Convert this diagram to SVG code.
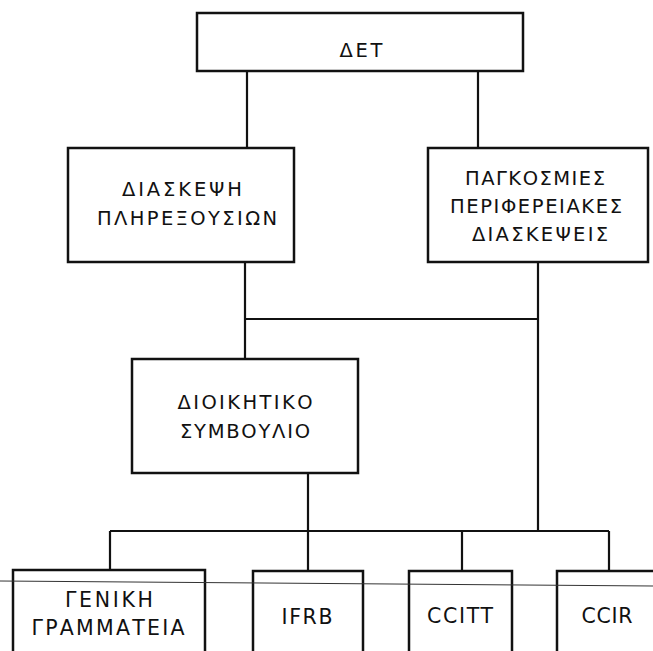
<svg xmlns="http://www.w3.org/2000/svg" width="653" height="651" viewBox="0 0 653 651">
<style>
.box{fill:#fff;stroke:#111;stroke-width:2.5}
.ln{fill:none;stroke:#111;stroke-width:2.2}
.t{font-family:"DejaVu Sans","Liberation Sans",Arial,sans-serif;font-size:19.5px;fill:#111;text-anchor:middle}
.b{font-size:20.5px}
</style>
<rect width="653" height="651" fill="#fff"/>
<g id="connectors">
<path class="ln" d="M247 71V148M478 71V148M245 262V359M245 319H538M538 262V531M308 473V571M110 531H609M110 531V570M462 531V571M609 531V571"/>
</g>
<g id="det">
<rect class="box" x="197" y="13" width="326" height="58"/>
<text class="t" x="361" y="57" textLength="43" lengthAdjust="spacing">ΔΕΤ</text>
</g>
<g id="diaskepsi">
<rect class="box" x="68" y="148" width="226" height="114"/>
<text class="t" x="182" y="196" textLength="120" lengthAdjust="spacing">ΔΙΑΣΚΕΨΗ</text>
<text class="t" x="187" y="225" textLength="180" lengthAdjust="spacing">ΠΛΗΡΕΞΟΥΣΙΩΝ</text>
</g>
<g id="pagkosmies">
<rect class="box" x="428" y="148" width="220" height="114"/>
<text class="t" x="535" y="185" textLength="140" lengthAdjust="spacing">ΠΑΓΚΟΣΜΙΕΣ</text>
<text class="t" x="536" y="213" textLength="172" lengthAdjust="spacing">ΠΕΡΙΦΕΡΕΙΑΚΕΣ</text>
<text class="t" x="540" y="241" textLength="136" lengthAdjust="spacing">ΔΙΑΣΚΕΨΕΙΣ</text>
</g>
<g id="dioikitiko">
<rect class="box" x="132" y="359" width="226" height="114"/>
<text class="t" x="245" y="409" textLength="135" lengthAdjust="spacing">ΔΙΟΙΚΗΤΙΚΟ</text>
<text class="t" x="245" y="438" textLength="130" lengthAdjust="spacing">ΣΥΜΒΟΥΛΙΟ</text>
</g>
<g id="geniki">
<rect class="box" x="13" y="570" width="192" height="95"/>
<text class="t b" x="109" y="607" textLength="88" lengthAdjust="spacing">ΓΕΝΙΚΗ</text>
<text class="t b" x="108" y="635" textLength="153" lengthAdjust="spacing">ΓΡΑΜΜΑΤΕΙΑ</text>
</g>
<g id="ifrb">
<rect class="box" x="253" y="571" width="110" height="95"/>
<text class="t b" x="307" y="624" textLength="51" lengthAdjust="spacing">IFRB</text>
</g>
<g id="ccitt">
<rect class="box" x="409" y="571" width="103" height="95"/>
<text class="t b" x="460" y="623" textLength="66" lengthAdjust="spacing">CCITT</text>
</g>
<g id="ccir">
<rect class="box" x="557" y="571" width="110" height="95"/>
<text class="t b" x="607" y="623" textLength="51" lengthAdjust="spacing">CCIR</text>
</g>
<line x1="0" y1="581" x2="653" y2="586" stroke="#333" stroke-width="1"/>
</svg>
